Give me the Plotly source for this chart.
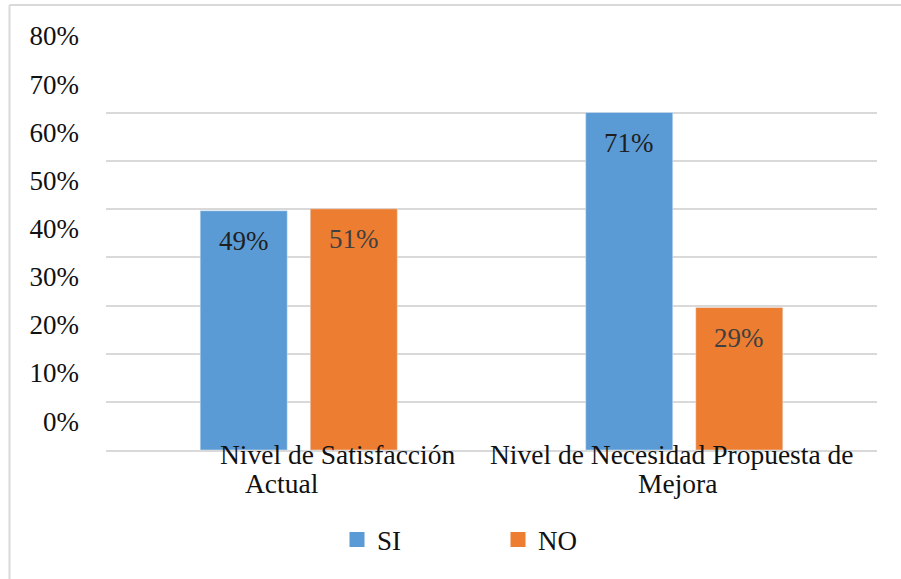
import plotly.graph_objects as go

categories = ["Nivel de Satisfacción Actual", "Nivel de Necesidad Propuesta de Mejora"]
cat_line1 = ["Nivel de Satisfacción", "Nivel de Necesidad Propuesta de"]
cat_line2 = ["Actual", "Mejora"]
si_values = [0.497, 0.701]
no_values = [0.501, 0.296]
si_labels = ["49%", "71%"]
no_labels = ["51%", "29%"]
tick_labels = ["0%", "10%", "20%", "30%", "40%", "50%", "60%", "70%", "80%"]
tick_positions = [0.06 + 0.1 * i for i in range(9)]
grid_values = [0.1, 0.2, 0.3, 0.4, 0.5, 0.6, 0.7, 0.8655]

BLUE = "#5B9BD5"
ORANGE = "#ED7D31"
GRID = "#d9d9d9"
FONT = "Liberation Serif, Times New Roman, serif"

fig = go.Figure()
fig.add_trace(go.Bar(name="SI", x=categories, y=si_values, marker_color=BLUE, showlegend=False))
fig.add_trace(go.Bar(name="NO", x=categories, y=no_values, marker_color=ORANGE, showlegend=False))
# legend entries with larger square swatches
fig.add_trace(go.Scatter(name="SI", x=[None], y=[None], mode="markers",
                         marker=dict(symbol="square", size=15, color=BLUE)))
fig.add_trace(go.Scatter(name="NO", x=[None], y=[None], mode="markers",
                         marker=dict(symbol="square", size=15, color=ORANGE)))

annotations = []
for i, c in enumerate(categories):
    annotations.append(dict(x=c, y=si_values[i], xref="x", yref="y", xshift=-55, yshift=-13,
                            yanchor="top", showarrow=False, text=si_labels[i],
                            font=dict(family=FONT, size=27, color="#1f1f1f")))
    annotations.append(dict(x=c, y=no_values[i], xref="x", yref="y", xshift=55, yshift=-13,
                            yanchor="top", showarrow=False, text=no_labels[i],
                            font=dict(family=FONT, size=27, color="#404040")))
shifts1 = [39, -12]
shifts2 = [-17, -7]
for i, c in enumerate(categories):
    annotations.append(dict(x=c, y=-0.0096, xref="x", yref="paper", xshift=shifts1[i],
                            yanchor="middle", showarrow=False, text=cat_line1[i],
                            font=dict(family=FONT, size=27.5, color="#111111")))
    annotations.append(dict(x=c, y=-0.0815, xref="x", yref="paper", xshift=shifts2[i],
                            yanchor="middle", showarrow=False, text=cat_line2[i],
                            font=dict(family=FONT, size=27.5, color="#111111")))

px_x = lambda p: (p - 106) / 771
px_y = lambda p: (450 - p) / 417
shapes = [
    dict(type="line", xref="paper", yref="paper", x0=px_x(9.5), x1=px_x(9.5), y0=px_y(5), y1=px_y(590),
         line=dict(color=GRID, width=2)),
    dict(type="line", xref="paper", yref="paper", x0=px_x(9.5), x1=px_x(910), y0=px_y(5), y1=px_y(5),
         line=dict(color=GRID, width=2)),
]

fig.update_layout(
    width=901, height=579,
    margin=dict(l=106, r=24, t=33, b=129),
    paper_bgcolor="white", plot_bgcolor="white",
    barmode="group", bargap=0.429, bargroupgap=0.209,
    font=dict(family=FONT, size=27, color="#111111"),
    xaxis=dict(showticklabels=False, ticks="", showline=True, linecolor=GRID, linewidth=2,
               showgrid=False, zeroline=False),
    yaxis=dict(range=[0, 0.8662], tickmode="array", tickvals=tick_positions, ticktext=tick_labels,
               showgrid=False, zeroline=False, ticks="", ticklabelstandoff=26,
               tickfont=dict(family=FONT, size=27, color="#111111"),
               minor=dict(tickmode="array", tickvals=grid_values, showgrid=True,
                          gridcolor=GRID, gridwidth=2, ticks="")),
    legend=dict(orientation="h", x=px_x(337), xanchor="left", y=px_y(540), yanchor="middle",
                font=dict(family=FONT, size=27, color="#111111"), entrywidth=116,
                itemsizing="trace", bgcolor="rgba(0,0,0,0)"),
    annotations=annotations,
    shapes=shapes,
)

fig.write_html("out.html")
